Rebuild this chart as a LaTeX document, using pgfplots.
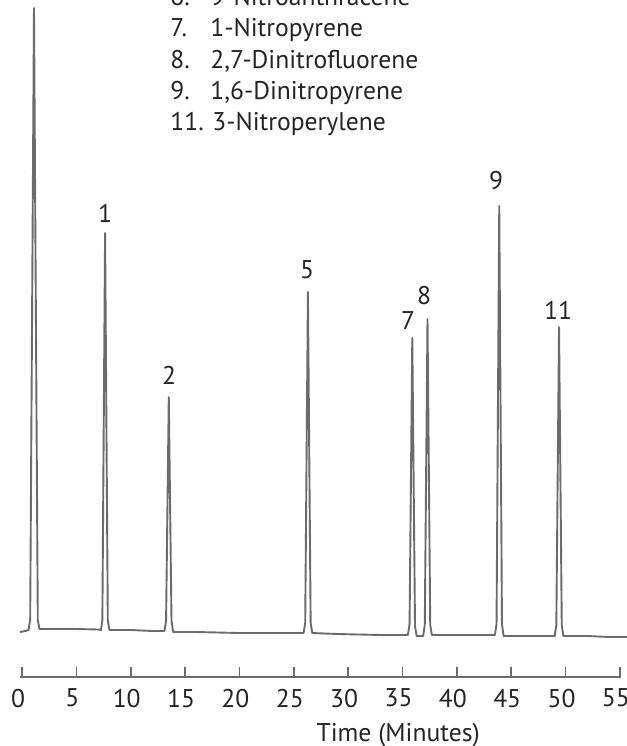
\documentclass[border=0pt]{standalone}
\usepackage{fontspec}
\setmainfont{PT Sans}
\usepackage{pgfplots}
\pgfplotsset{compat=1.18}
\definecolor{trace}{gray}{0.42}
\definecolor{txt}{gray}{0.14}
\begin{document}
\fontsize{12.8}{15}\selectfont
\begin{tikzpicture}
\useasboundingbox (-10.2pt,-34.5pt) rectangle (303.3pt,338.5pt);
\begin{axis}[
  at={(0,0)}, anchor=south west,
  scale only axis, width=300.3pt, height=338.5pt,
  xmin=-0.15, xmax=55.1, ymin=-47, ymax=630,
  axis x line=bottom, axis y line=none,
  x axis line style={-, draw=trace, line width=0.8pt},
  xtick={0,5,...,55},
  tick align=inside,
  major tick length=5pt,
  xtick style={draw=trace, line width=0.8pt},
  /pgf/number format/assume math mode=true,
  xticklabel style={text=txt, yshift=-1.5pt, xshift=-2pt},
  clip=false,
]
\addplot[trace, line width=0.95pt, line join=round] coordinates {
(-0.2,-2) (0.3,-1) (0.6,0) (0.75,10) (1.1,622) (1.45,10) (1.6,1) (3,1) (5,1) (7,0.5)
(7.26,0) (7.39,10) (7.64,397) (7.89,10) (8.04,0) (10,0) (12,-1)
(13.1,-1) (13.25,9) (13.5,233) (13.75,9) (13.9,-2) (16,-2) (20,-3) (24,-3)
(25.9,-3) (26.05,7) (26.3,338) (26.55,7) (26.7,-3) (29,-4) (33,-5)
(35.5,-5) (35.65,6) (35.9,292) (36.15,4) (36.3,-6) (36.9,-6)
(37.05,5) (37.3,311) (37.55,5) (37.7,-5) (40,-5)
(43.5,-5) (43.65,6) (43.9,424) (44.15,6) (44.3,-6) (47,-6)
(49.0,-6) (49.15,5) (49.4,303) (49.65,5) (49.8,-6) (52,-6) (54,-7) (55.66,-7)
};
% peak labels
\node[text=txt] at (axis cs:7.64,417) {1};
\node[text=txt] at (axis cs:13.52,255) {2};
\node[text=txt] at (axis cs:26.22,360) {5};
\node[text=txt] at (axis cs:35.51,309) {7};
\node[text=txt] at (axis cs:36.98,334) {8};
\node[text=txt] at (axis cs:43.61,449) {9};
\node[text=txt] at (axis cs:49.31,320) {11};
% compound list
\node[text=txt, anchor=base west, inner sep=0pt] at (axis cs:13.62,625) {6.};
\node[text=txt, anchor=base west, inner sep=0pt] at (axis cs:17.30,625) {9-Nitroanthracene};
\node[text=txt, anchor=base west, inner sep=0pt] at (axis cs:13.62,593) {7.};
\node[text=txt, anchor=base west, inner sep=0pt] at (axis cs:17.30,593) {1-Nitropyrene};
\node[text=txt, anchor=base west, inner sep=0pt] at (axis cs:13.62,562) {8.};
\node[text=txt, anchor=base west, inner sep=0pt] at (axis cs:17.30,562) {2,7-Dinitrofluorene};
\node[text=txt, anchor=base west, inner sep=0pt] at (axis cs:13.62,531) {9.};
\node[text=txt, anchor=base west, inner sep=0pt] at (axis cs:17.30,531) {1,6-Dinitropyrene};
\node[text=txt, anchor=base west, inner sep=0pt] at (axis cs:13.62,500) {11.};
\node[text=txt, anchor=base west, inner sep=0pt] at (axis cs:17.48,500) {3-Nitroperylene};
% axis title
\node[text=txt, anchor=base] at (axis cs:34.6,-111) {Time (Minutes)};
\end{axis}
\end{tikzpicture}
\end{document}
